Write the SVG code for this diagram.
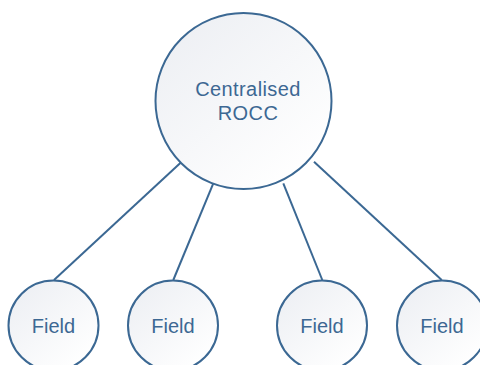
<svg xmlns="http://www.w3.org/2000/svg" width="480" height="365" viewBox="0 0 480 365">
<defs>
<linearGradient id="g" x1="0.15" y1="0.1" x2="0.85" y2="0.9">
<stop offset="0" stop-color="#eef0f4"/>
<stop offset="1" stop-color="#ffffff"/>
</linearGradient>
<style>
.n{fill:url(#g);stroke:#3b6893;stroke-width:2}
.c line{stroke:#3b6893;stroke-width:2}
text{font-family:"Liberation Sans",Arial,sans-serif;fill:#3d6893;text-anchor:middle;font-size:20px}
.t1{letter-spacing:0.4px}
</style>
</defs>
<rect width="480" height="365" fill="#ffffff"/>
<g class="c" id="connectors">
<line x1="181.7" y1="161.7" x2="54" y2="280"/>
<line x1="213.3" y1="183.3" x2="173.3" y2="280"/>
<line x1="283.3" y1="183.3" x2="322.3" y2="280"/>
<line x1="314" y1="161.7" x2="441.7" y2="280"/>
</g>
<g id="rocc">
<circle class="n" cx="243.5" cy="101" r="88"/>
<text class="t1" x="248" y="96">Centralised</text>
<text class="t1" x="248" y="120">ROCC</text>
</g>
<g id="field1">
<circle class="n" cx="53.5" cy="325.5" r="45"/>
<text x="53.5" y="333">Field</text>
</g>
<g id="field2">
<circle class="n" cx="173" cy="325.5" r="45"/>
<text x="173" y="333">Field</text>
</g>
<g id="field3">
<circle class="n" cx="322" cy="325.5" r="45"/>
<text x="322" y="333">Field</text>
</g>
<g id="field4">
<circle class="n" cx="442" cy="325.5" r="45"/>
<text x="442" y="333">Field</text>
</g>
</svg>
